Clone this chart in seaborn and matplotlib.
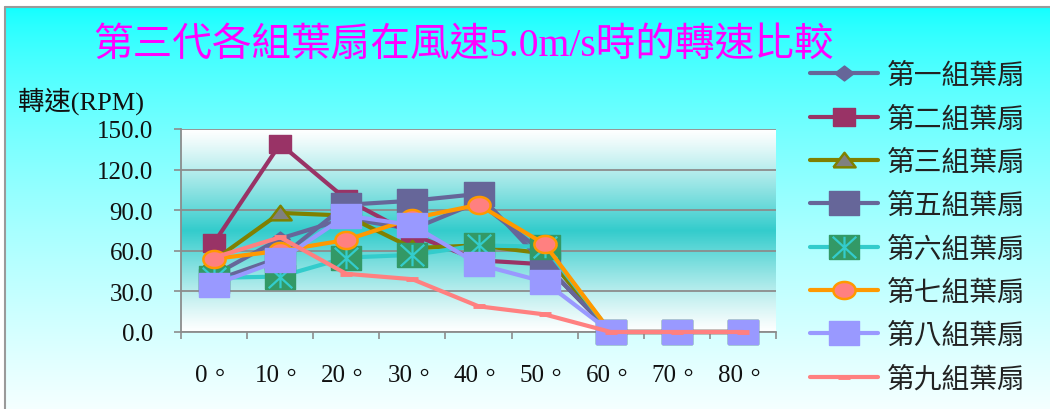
import numpy as np
import pandas as pd
import matplotlib
matplotlib.use("Agg")
import matplotlib.pyplot as plt
from matplotlib.path import Path
from matplotlib.lines import Line2D
from matplotlib.legend_handler import HandlerTuple
import seaborn as sns

# Wind direction angle of each blade group (x categories)
angles = ["0。", "10。", "20。", "30。", "40。", "50。", "60。", "70。", "80。"]
fan_names = ["第一組葉扇", "第二組葉扇", "第三組葉扇", "第五組葉扇",
             "第六組葉扇", "第七組葉扇", "第八組葉扇", "第九組葉扇"]

# Rotation speed (RPM) at wind speed 5.0 m/s
fan1 = [42, 69, 84, 76, 96, 58, 0, 0, 0]
fan2 = [66, 139, 98, 72, 53, 50, 0, 0, 0]
fan3 = [53, 88, 86, 62, 64, 58, 0, 0, 0]
fan5 = [38, 55, 94, 97, 102, 50, 0, 0, 0]
fan6 = [40, 41, 55, 57, 64, 63, 0, 0, 0]
fan7 = [54, 60, 68, 84, 94, 65, 0, 0, 0]
fan8 = [35, 53, 86, 79, 50, 37, 0, 0, 0]
fan9 = [55, 70, 43, 39, 19, 13, 0, 0, 0]
yticks = [0, 30, 60, 90, 120, 150]

series = [fan1, fan2, fan3, fan5, fan6, fan7, fan8, fan9]
df = pd.DataFrame({
    "pos": np.tile(np.arange(len(angles)), len(series)),
    "rpm": np.concatenate(series),
    "fan": np.repeat(fan_names, len(angles)),
})

sns.set_theme(style="white")
plt.rcParams["font.family"] = ["Liberation Serif", "Noto Sans CJK TC"]
plt.rcParams["axes.unicode_minus"] = False

# slightly widened marker shapes
def rect(a):
    return [(-a, -1), (a, -1), (a, 1), (-a, 1), (-a, -1)]

def diamond(a):
    return [(-a, 0), (0, 1), (a, 0), (0, -1), (-a, 0)]

def triangle(a):
    return [(-a, -0.8), (a, -0.8), (0, 0.9), (-a, -0.8)]

def ellipse(a):
    th = np.linspace(0, 2 * np.pi, 60)
    return list(zip(a * np.cos(th), np.sin(th)))

asterisk = Path([(0, -1), (0, 1), (-1.1, -1), (1.1, 1), (-1.1, 1), (1.1, -1)],
                [Path.MOVETO, Path.LINETO, Path.MOVETO, Path.LINETO,
                 Path.MOVETO, Path.LINETO])

styles = [
    dict(color="#666699", marker=diamond(1.3), markersize=14, markerfacecolor="#666699",
         markeredgecolor="#666699", markeredgewidth=1),
    dict(color="#993366", marker=rect(1.3), markersize=16, markerfacecolor="#993366",
         markeredgecolor="#993366", markeredgewidth=1),
    dict(color="#808000", marker=triangle(1.3), markersize=16, markerfacecolor="#808080",
         markeredgecolor="#808000", markeredgewidth=1.8),
    dict(color="#666699", marker=rect(1.2), markersize=21, markerfacecolor="#666699",
         markeredgecolor="#666699", markeredgewidth=1),
    dict(color="#33CCCC", marker=rect(1.2), markersize=21, markerfacecolor="#339966",
         markeredgecolor="#339966", markeredgewidth=1),
    dict(color="#FF9900", marker=ellipse(1.3), markersize=16, markerfacecolor="#FF8080",
         markeredgecolor="#FF9900", markeredgewidth=1.8),
    dict(color="#9999FF", marker=rect(1.2), markersize=21, markerfacecolor="#9999FF",
         markeredgecolor="#9999FF", markeredgewidth=1),
    dict(color="#FF8080", marker="_", markersize=9, markerfacecolor="#FF8080",
         markeredgecolor="#FF8080", markeredgewidth=3.5),
]
star_style = dict(marker=asterisk, markersize=17, markerfacecolor="none",
                  markeredgecolor="#33CCCC", markeredgewidth=1.6)

W, H = 1050, 410
fig = plt.figure(figsize=(W / 100, H / 100), dpi=100)

# figure background: cyan fading to white, with a grey frame on top/left
bg = fig.add_axes([0, 0, 1, 1], zorder=-10)
yy = np.arange(H)
t = np.clip((yy - 8) / (H - 8), 0, 1) ** 0.7
img = np.ones((H, W, 3))
img[:, :, 0] = ((16 + (245 - 16) * t) / 255)[:, None]
img[:8, :, :] = 1
img[:, :5, :] = 1
bg.imshow(img, extent=[0, W, H, 0], aspect="auto", interpolation="bilinear")
bg.plot([5, 5], [8, H], color="#9a9a9a", lw=1.5)
bg.plot([5, W], [8, 8], color="#9a9a9a", lw=1.5)
bg.set_xlim(0, W)
bg.set_ylim(H, 0)
bg.axis("off")

ax = fig.add_axes([181 / W, 77 / H, 595 / W, 203 / H])
ax.patch.set_alpha(0)

# plot-area fill: white at the edges, teal through the middle
v = np.linspace(0, 1, 300)
d = np.abs(v - 0.5) * 2
tt = (1 - d) ** 1.15
teal = np.array([0x33, 0xCC, 0xCC]) / 255
grad = (1 - tt)[:, None] * np.ones(3) + tt[:, None] * teal
ax.imshow(grad[:, None, :], extent=[-0.5, len(angles) - 0.5, 0, 150],
          origin="lower", aspect="auto", zorder=0, interpolation="bilinear")

for name, st in zip(fan_names, styles):
    sub = df[df["fan"] == name]
    sns.lineplot(data=sub, x="pos", y="rpm", ax=ax, lw=3, legend=False,
                 errorbar=None, sort=False, clip_on=False, **st)
    if name == "第六組葉扇":
        sns.lineplot(data=sub, x="pos", y="rpm", ax=ax, linestyle="none",
                     legend=False, errorbar=None, sort=False, clip_on=False,
                     color="#33CCCC", **star_style)

ax.set_xlim(-0.5, len(angles) - 0.5)
ax.set_ylim(0, 150)
ax.set_xlabel("")
ax.set_ylabel("")

ax.set_xticks(range(len(angles)))
ax.set_xticklabels(angles)
ax.set_xticks(np.arange(-0.5, len(angles), 1), minor=True)
ax.tick_params(axis="x", which="major", length=0, pad=23, labelsize=18, labelcolor="#111111")
ax.tick_params(axis="x", which="minor", length=5, width=1.2, color="#8c8c8c",
               direction="out", bottom=True)
ax.set_yticks(yticks)
ax.set_yticklabels([f"{y:.1f}" for y in yticks])
ax.tick_params(axis="y", length=5, width=1.2, color="#8c8c8c", direction="out",
               left=True, pad=15, labelsize=18, labelcolor="#111111")

ax.set_axisbelow(True)
ax.yaxis.grid(True, color="#8c8c8c", lw=1.3, zorder=0.5)
ax.xaxis.grid(False)
for side in ["top", "right"]:
    ax.spines[side].set_visible(False)
for side in ["left", "bottom"]:
    ax.spines[side].set_color("#8c8c8c")
    ax.spines[side].set_linewidth(1.3)
    ax.spines[side].set_zorder(1.5)

fig.text(463 / W, 1 - 46 / H, "第三代各組葉扇在風速5.0m/s時的轉速比較",
         ha="center", va="center", fontsize=28.5, color="#FF00FF")
fig.text(18 / W, 1 - 101 / H, "轉速(RPM)", ha="left", va="center",
         fontsize=19, color="#111111")

handles = []
for name, st in zip(fan_names, styles):
    h = Line2D([], [], lw=3, **st)
    if name == "第六組葉扇":
        h = (h, Line2D([], [], linestyle="none", **star_style))
    handles.append(h)

fig.legend(handles, fan_names, loc="upper left",
           bbox_to_anchor=(810 / W, 1 - 64 / H), frameon=False, fontsize=20,
           handlelength=2.45, handletextpad=0.3, labelspacing=0.62,
           borderaxespad=0, borderpad=0, labelcolor="#222222",
           handler_map={tuple: HandlerTuple(ndivide=1)})

fig.savefig("out.png", dpi=100)
